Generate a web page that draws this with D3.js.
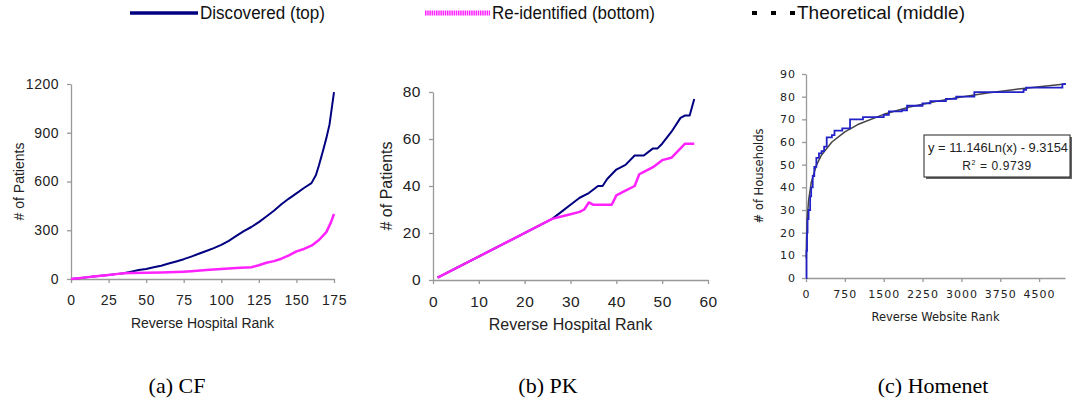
<!DOCTYPE html>
<html>
<head>
<meta charset="utf-8">
<script src="https://cdn.jsdelivr.net/npm/d3@7"></script>
<style>
  body { margin: 0; background: #fff; }
  svg text { font-family: Arial, "Liberation Sans", sans-serif; fill: #222; }
  .legend text { font-size: 18px; fill: #111; }
  .caption { font-family: "Liberation Serif", "Times New Roman", serif !important; font-size: 22px; fill: #000 !important; }
</style>
</head>
<body>
<div id="chart"></div>
<script>
// --- Data ---
// (a) CF: [reverse hospital rank, # of patients]
const cfDiscovered = [[0,0],[5,5],[10,10],[15,15],[20,20],[25,25],[30,30],[35,35],[40,45],[45,55],[50,62],[55,72],[60,82],[65,95],[70,108],[75,122],[80,138],[85,155],[90,172],[95,190],[100,210],[105,235],[110,265],[115,295],[120,320],[125,350],[130,385],[135,420],[140,460],[145,495],[150,527],[155,560],[160,590],[163,640],[165,700],[168,800],[170,870],[172,950],[175,1150]];
const cfReidentified = [[0,0],[5,5],[10,10],[15,15],[20,20],[25,25],[30,30],[35,35],[40,37],[50,38],[60,40],[70,43],[75,45],[80,48],[90,55],[100,62],[110,68],[120,72],[125,85],[130,100],[135,110],[140,125],[145,145],[150,170],[155,185],[160,205],[165,240],[170,290],[173,350],[175,400]];

// (b) PK
const pkDiscovered = [[1,1],[5,5],[10,10],[15,15],[20,20],[26,26],[28,29],[30,32],[32,35],[34,37],[36,40],[37,40],[38,43],[40,47],[42,49],[44,53],[46,53],[48,56],[49,56],[50,58],[52,63],[54,69],[55,70],[56,70],[57,77]];
const pkReidentified = [[1,1],[5,5],[10,10],[15,15],[20,20],[26,26],[28,27],[30,28],[32,29],[33,30],[34,33],[35,32],[38,32],[39,32],[40,36],[42,38],[44,40],[45,45],[46,46],[48,48],[50,51],[52,52],[54,56],[55,58],[57,58]];

// (c) Homenet: [reverse website rank, # of households]
const hnDiscovered = [[0,0],[10,12],[20,20],[30,26],[50,30],[80,36],[100,40],[130,45],[160,49],[200,53],[250,55],[300,56],[350,58],[400,62],[500,63],[550,65],[650,65],[700,66],[800,66],[850,70],[1000,70],[1100,71],[1400,71],[1500,72],[1600,73.5],[1850,74],[1950,76],[2250,77],[2400,78],[2700,79],[2900,80],[3200,80],[3250,82],[3750,82],[4200,83],[4250,84],[4900,84],[4950,85.5],[5000,86]];
const hnTheoretical = [[5,8.6],[10,16.4],[25,26.6],[50,34.3],[100,42],[200,49.7],[300,54.3],[500,60],[750,64.5],[1000,67.7],[1500,72.2],[2000,75.4],[2500,77.9],[3000,79.9],[3500,81.6],[4000,83.1],[4500,84.4],[5000,85.6]];

const cfXTicks = [0,25,50,75,100,125,150,175];
const cfYTicks = [0,300,600,900,1200];
const pkXTicks = [0,10,20,30,40,50,60];
const pkYTicks = [0,20,40,60,80];
const hnXTicks = [0,750,1500,2250,3000,3750,4500];
const hnYTicks = [0,10,20,30,40,50,60,70,80,90];

const legendItems = ["Discovered (top)", "Re-identified (bottom)", "Theoretical (middle)"];
const captions = ["(a) CF", "(b) PK", "(c) Homenet"];

const navy = "#000080", magenta = "#ff22ff", blue = "#2222c8";

const svg = d3.select("#chart").append("svg").attr("width", 1073).attr("height", 404);

// --- Legend ---
const legend = svg.append("g").attr("class", "legend");
legend.append("line").attr("x1", 130).attr("x2", 198).attr("y1", 13).attr("y2", 13)
  .attr("stroke", navy).attr("stroke-width", 3.5);
legend.append("line").attr("x1", 425).attr("x2", 490).attr("y1", 13).attr("y2", 13)
  .attr("stroke", magenta).attr("stroke-width", 5).attr("stroke-dasharray", "1.5,0.7");
legend.append("line").attr("x1", 752).attr("x2", 798).attr("y1", 13).attr("y2", 13)
  .attr("stroke", "#000").attr("stroke-width", 4).attr("stroke-dasharray", "5,14");
// narrow text, like the original legend
[[200, 125, 0], [492, 163, 1], [797, 168, 2]].forEach(([x, w, i]) => {
  legend.append("text").attr("x", x).attr("y", 19)
    .attr("textLength", w).attr("lengthAdjust", "spacingAndGlyphs").text(legendItems[i]);
});

// --- Panel helper ---
function panel(o) {
  const x = d3.scaleLinear().domain(o.xDomain).range(o.xRange);
  const y = d3.scaleLinear().domain(o.yDomain).range(o.yRange);
  const g = svg.append("g");

  const xAxis = d3.axisBottom(x).tickValues(o.xTicks).tickFormat(d3.format("d"))
    .tickSize(4).tickSizeOuter(0).tickPadding(o.xPad);
  const yAxis = d3.axisLeft(y).tickValues(o.yTicks).tickFormat(d3.format("d"))
    .tickSize(4).tickSizeOuter(0).tickPadding(o.yPad);
  const gx = g.append("g").attr("transform", `translate(0,${o.yRange[0]})`).call(xAxis);
  const gy = g.append("g").attr("transform", `translate(${o.xRange[0]},0)`).call(yAxis);
  [gx, gy].forEach(a => {
    a.select(".domain").attr("stroke", "#999").attr("stroke-width", 1.3);
    a.selectAll(".tick line").attr("stroke", "#999").attr("stroke-width", 1.3);
    a.selectAll("text").attr("font-size", o.tickFont).attr("fill", "#222")
      .attr("letter-spacing", o.tickSpacing || 0)
      .style("font-family", o.font || "Arial, 'Liberation Sans', sans-serif");
  });

  const line = d3.line().x(d => x(d[0])).y(d => y(d[1])).curve(o.curve || d3.curveLinear);
  o.series.forEach(s => {
    g.append("path").datum(s.data).attr("d", line).attr("fill", "none")
      .attr("stroke", s.color).attr("stroke-width", s.width)
      .attr("stroke-linejoin", "round");
  });

  g.append("text").attr("x", (o.xRange[0] + o.xRange[1]) / 2).attr("y", o.xLabelY)
    .attr("text-anchor", "middle").attr("font-size", o.labelFont)
    .style("font-family", o.font || null).text(o.xLabel);
  g.append("text").attr("transform", `translate(${o.yLabelX},${(o.yRange[0] + o.yRange[1]) / 2}) rotate(-90)`)
    .attr("text-anchor", "middle").attr("font-size", o.labelFont)
    .style("font-family", o.font || null).text(o.yLabel);
  return { g, x, y };
}

panel({
  xDomain: [0, 175], xRange: [71, 334], yDomain: [0, 1200], yRange: [279, 84],
  xTicks: cfXTicks, yTicks: cfYTicks, tickFont: 14, labelFont: 14, xPad: 12, yPad: 8, tickSpacing: 0.5,
  xLabel: "Reverse Hospital Rank", xLabelY: 328, yLabel: "# of Patients", yLabelX: 24,
  series: [
    { data: cfDiscovered, color: navy, width: 2 },
    { data: cfReidentified, color: magenta, width: 2.5 }
  ]
});

panel({
  xDomain: [0, 60], xRange: [433, 708], yDomain: [0, 80], yRange: [280, 92],
  xTicks: pkXTicks, yTicks: pkYTicks, tickFont: 15.5, labelFont: 16, xPad: 12, yPad: 8, tickSpacing: 0.5,
  xLabel: "Reverse Hospital Rank", xLabelY: 330, yLabel: "# of Patients", yLabelX: 392,
  series: [
    { data: pkDiscovered, color: navy, width: 2 },
    { data: pkReidentified, color: magenta, width: 2.5 }
  ]
});

const c = panel({
  xDomain: [0, 5000], xRange: [806, 1065], yDomain: [0, 90], yRange: [278, 74],
  xTicks: hnXTicks, yTicks: hnYTicks, tickFont: 11, labelFont: 11.5, xPad: 8, yPad: 6, tickSpacing: 1,
  font: "'DejaVu Sans', Verdana, sans-serif",
  xLabel: "Reverse Website Rank", xLabelY: 321, yLabel: "# of Households", yLabelX: 763,
  series: [
    { data: hnTheoretical, color: "#444", width: 1.5 }
  ]
});
c.g.append("path").datum(hnDiscovered)
  .attr("d", d3.line().x(d => c.x(d[0])).y(d => c.y(d[1])).curve(d3.curveStepAfter))
  .attr("fill", "none").attr("stroke", blue).attr("stroke-width", 1.8);

// Trendline equation box
const box = c.g.append("g");
box.append("rect").attr("x", 926).attr("y", 137).attr("width", 146).attr("height", 42)
  .attr("fill", "#666");
box.append("rect").attr("x", 924).attr("y", 135).attr("width", 146).attr("height", 42)
  .attr("fill", "#fff").attr("stroke", "#222").attr("stroke-width", 1);
box.append("text").attr("x", 928).attr("y", 152).attr("font-size", 12)
  .attr("textLength", 140).attr("lengthAdjust", "spacingAndGlyphs")
  .text("y = 11.146Ln(x) - 9.3154");
const r2 = box.append("text").attr("x", 997).attr("y", 170).attr("text-anchor", "middle")
  .attr("font-size", 12).attr("letter-spacing", 0.6);
r2.append("tspan").text("R");
r2.append("tspan").attr("font-size", 7).attr("dy", -5).text("2");
r2.append("tspan").attr("dy", 5).text(" = 0.9739");

// --- Captions ---
[[177, 0], [548, 1], [933, 2]].forEach(([x, i]) => {
  svg.append("text").attr("class", "caption").attr("x", x).attr("y", 393)
    .attr("text-anchor", "middle").text(captions[i]);
});
</script>
</body>
</html>
